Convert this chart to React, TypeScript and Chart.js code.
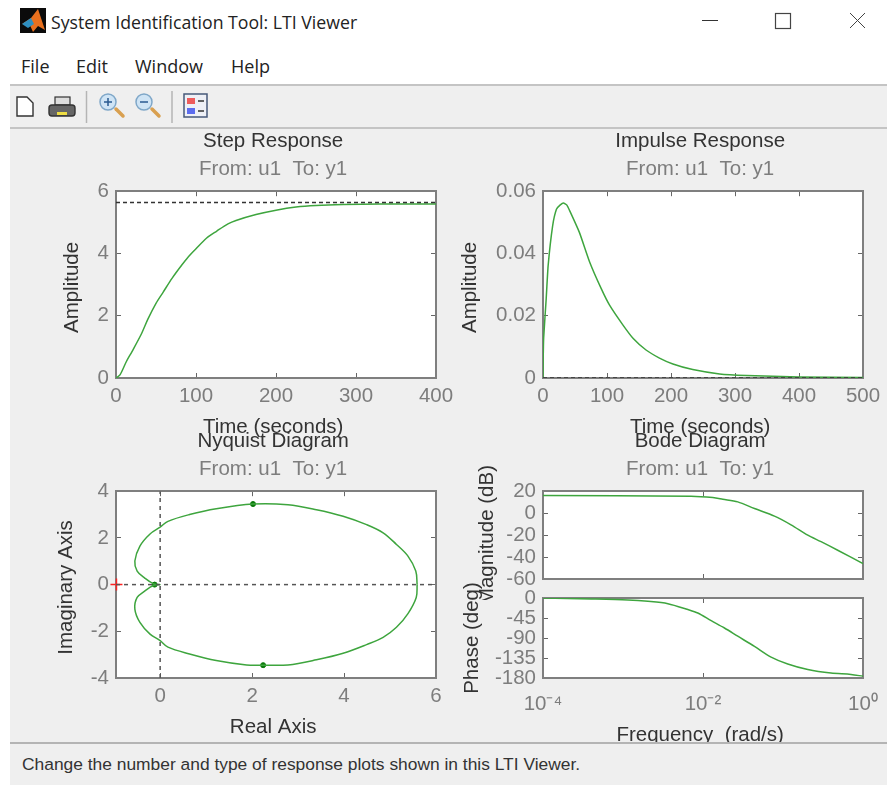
import React, { useEffect, useRef } from "react";
import { Chart, registerables } from "chart.js";

Chart.register(...registerables);

// ---------- data ----------
const stepTime = [0, 5, 13, 20, 32, 40, 50, 59, 70, 82, 90, 100, 113, 126, 140, 150, 175, 200, 225, 250, 284, 330, 400];
const stepAmp = [0, 0.1, 0.53, 0.85, 1.43, 1.9, 2.4, 2.76, 3.2, 3.62, 3.88, 4.15, 4.49, 4.72, 4.95, 5.06, 5.25, 5.39, 5.49, 5.54, 5.57, 5.585, 5.59];
const stepFinalTime = [0, 400];
const stepFinalAmp = [5.64, 5.64];

const impulseTime = [0, 0.3, 1, 5, 8, 15, 21, 27, 32, 37, 42, 57, 73, 91, 104, 125, 141, 161, 182, 203, 234, 276, 318, 400, 500];
const impulseAmp = [0, 0.006, 0.0127, 0.0255, 0.036, 0.0488, 0.0542, 0.0556, 0.0562, 0.0556, 0.0536, 0.0467, 0.0372, 0.0287, 0.0234, 0.017, 0.0127, 0.009, 0.0064, 0.0045, 0.0027, 0.0013, 0.0008, 0.0003, 0.0002];
const impulseFinalTime = [0, 500];
const impulseFinalAmp = [0, 0];

const nyqRe = [5.59, 5.56, 5.39, 5.14, 4.85, 4.49, 3.98, 3.4, 2.78, 2.02, 1.22, 0.64, 0.17, 0, -0.22, -0.44, -0.55, -0.5, -0.33, -0.15, 0, -0.15, -0.33, -0.5, -0.55, -0.44, -0.22, 0, 0.17, 0.64, 1.22, 1.88, 2.24, 2.78, 3.4, 3.98, 4.49, 4.85, 5.14, 5.39, 5.57, 5.59];
const nyqIm = [0, 0.58, 1.22, 1.72, 2.22, 2.57, 2.93, 3.21, 3.42, 3.45, 3.25, 3.0, 2.71, 2.46, 2.17, 1.65, 1.01, 0.58, 0.27, 0.04, 0, -0.04, -0.27, -0.55, -1.05, -1.62, -2.12, -2.4, -2.68, -2.97, -3.25, -3.44, -3.45, -3.44, -3.22, -2.94, -2.57, -2.26, -1.83, -1.24, -0.55, 0];
const nyqArrowRe = [2.02, 2.24, -0.12];
const nyqArrowIm = [3.45, -3.45, 0];
const nyqCriticalRe = [-0.95];
const nyqCriticalIm = [0];
const nyqAxisRe = [-0.96, 6];
const nyqAxisIm = [-4, 4];

const magFreq = [0.0001, 0.0071, 0.01327, 0.0177, 0.0272, 0.044, 0.0782, 0.126, 0.204, 0.299, 0.483, 1];
const magDb = [16.1, 15.4, 14.2, 12.7, 10.3, 4.2, -2.7, -10.6, -20, -26, -33.8, -46];
const phaseFreq = [0.0001, 0.000402, 0.00115, 0.00205, 0.00364, 0.00647, 0.00861, 0.01265, 0.01854, 0.0272, 0.044, 0.071, 0.1146, 0.204, 0.398, 0.708, 1];
const phaseDeg = [0, -2.2, -4.5, -7.5, -12.8, -26, -33.8, -51, -67.5, -86, -109, -133, -148.5, -161, -169, -172, -176];

const stepXTicks = [0, 100, 200, 300, 400];
const stepYTicks = [0, 2, 4, 6];
const impulseXTicks = [0, 100, 200, 300, 400, 500];
const impulseYTicks = [0, 0.02, 0.04, 0.06];
const nyqXTicks = [0, 2, 4, 6];
const nyqYTicks = [-4, -2, 0, 2, 4];
const freqTicks = [0.0001, 0.01, 1];
const freqLabels = ["10\u207B\u2074", "10\u207B\u00B2", "10\u2070"];
const magTicks = [-60, -40, -20, 0, 20];
const phaseTicks = [-180, -135, -90, -45, 0];
const menus = ["File", "Edit", "Window", "Help"];

// ---------- styling ----------
const GREEN = "#3ea53e";
const FONT = "'Liberation Sans', Arial, sans-serif";
const TICK_GREY = "#7d7d7d";
const DARK = "#333333";
const EDGE = "#7f7f7f";

const zip = (xs: number[], ys: number[]) => xs.map((x, i) => ({ x, y: ys[i] }));

const whitePlot = {
  id: "whitePlot",
  beforeDraw(chart: any) {
    const a = chart.chartArea;
    chart.ctx.save();
    chart.ctx.fillStyle = "#ffffff";
    chart.ctx.fillRect(a.left, a.top, a.right - a.left, a.bottom - a.top);
    chart.ctx.restore();
  },
};

type Cfg = {
  box: [number, number, number, number]; // canvas left, top, right, bottom
  plot: [number, number, number, number]; // plot left, top, right, bottom
  title?: string;
  subtitle?: string;
  xTitle?: string;
  yTitle: string;
  xType?: string;
  xRange: [number, number];
  yRange: [number, number];
  xTicks: number[];
  yTicks: number[];
  xLabel?: (v: number) => string;
  showXLabels?: boolean;
  xPad?: number;
  datasets: any[];
};

const line = (data: any[], color = GREEN, width = 1.5, dash: number[] = [], tension = 0.3) => ({
  data,
  borderColor: color,
  backgroundColor: color,
  borderWidth: width,
  borderDash: dash,
  pointRadius: 0,
  tension,
  fill: false,
});

const zeroPadding = (s: any) => {
  s.paddingLeft = 0;
  s.paddingRight = 0;
  s.paddingTop = 0;
  s.paddingBottom = 0;
};

function axis(position: string, values: number[], range: [number, number], extra: any) {
  const isX = position === "bottom" || position === "top";
  return {
    axis: isX ? "x" : "y",
    position,
    type: "linear",
    min: range[0],
    max: range[1],
    afterBuildTicks: (s: any) => {
      s.ticks = values.map((value) => ({ value }));
    },
    grid: { drawOnChartArea: false, drawTicks: true, tickLength: -5, color: "#666666", lineWidth: 1 },
    border: { display: true, color: EDGE, width: 2 },
    ticks: { display: false },
    afterFit: (s: any) => {
      zeroPadding(s);
      if (isX) s.height = 0;
      else s.width = 0;
    },
    ...extra,
  };
}

function buildOptions(c: Cfg) {
  const [bl, bt, br, bb] = c.box;
  const [pl, pt, pr, pb] = c.plot;
  const tickFont = { family: FONT, size: 20.5 };
  const titleFont = { family: FONT, size: 20.5, weight: "normal" as const };
  const hasTitle = !!c.title;
  return {
    responsive: false,
    animation: false,
    layout: {
      autoPadding: false,
      padding: { left: 0, right: br - pr, top: hasTitle ? 0 : pt - bt, bottom: c.xTitle ? 0 : bb - pb },
    },
    plugins: {
      legend: { display: false },
      tooltip: { enabled: false },
      title: {
        display: hasTitle,
        text: c.title,
        fullSize: false,
        color: DARK,
        font: titleFont,
        padding: { top: 0, bottom: 3 },
      },
      subtitle: {
        display: hasTitle,
        text: c.subtitle,
        fullSize: false,
        color: TICK_GREY,
        font: titleFont,
        padding: { top: 0, bottom: 10 },
      },
    },
    scales: {
      x: axis("bottom", c.xTicks, c.xRange, {
        type: c.xType || "linear",
        afterFit: (s: any) => {
          zeroPadding(s);
          s.height = c.xTitle ? bb - pb : 0;
        },
        title: c.xTitle
          ? { display: true, text: c.xTitle, color: DARK, font: titleFont, padding: 0 }
          : { display: false },
        ticks: {
          display: c.showXLabels !== false,
          color: TICK_GREY,
          font: tickFont,
          padding: c.xPad ?? 11,
          autoSkip: false,
          minRotation: 0,
          maxRotation: 0,
          callback: (v: number) => (c.xLabel ? c.xLabel(Number(v)) : String(v)),
        },
      }),
      y: axis("left", c.yTicks, c.yRange, {
        afterFit: (s: any) => {
          zeroPadding(s);
          s.width = pl - bl;
        },
        title: { display: true, text: c.yTitle, color: DARK, font: titleFont, padding: 0 },
        ticks: {
          display: true,
          color: TICK_GREY,
          font: tickFont,
          padding: 12,
          autoSkip: false,
          callback: (v: number) => String(v),
        },
      }),
      x2: axis("top", c.xTicks, c.xRange, { type: c.xType || "linear" }),
      y2: axis("right", c.yTicks, c.yRange, {}),
    },
  };
}

const charts: Cfg[] = [
  {
    box: [60, 129, 470, 440],
    plot: [116, 190, 436, 378],
    title: "Step Response ",
    subtitle: "From: u1  To: y1 ",
    xTitle: "Time (seconds) ",
    yTitle: "Amplitude ",
    xRange: [0, 400],
    yRange: [0, 6],
    xTicks: stepXTicks,
    yTicks: stepYTicks,
    datasets: [line(zip(stepFinalTime, stepFinalAmp), "#333333", 1.5, [4, 3], 0), line(zip(stepTime, stepAmp))],
  },
  {
    box: [458, 129, 887, 440],
    plot: [543, 190, 863, 378],
    title: "Impulse Response ",
    subtitle: "From: u1  To: y1 ",
    xTitle: "Time (seconds) ",
    yTitle: "Amplitude ",
    xRange: [0, 500],
    yRange: [0, 0.06],
    xTicks: impulseXTicks,
    yTicks: impulseYTicks,
    datasets: [line(zip(impulseFinalTime, impulseFinalAmp), "#333333", 1.5, [4, 3], 0), line(zip(impulseTime, impulseAmp), GREEN, 1.5, [], 0.15)],
  },
  {
    box: [54, 429, 470, 740],
    plot: [116, 490, 436, 678],
    title: "Nyquist Diagram ",
    subtitle: "From: u1  To: y1 ",
    xTitle: "Real Axis ",
    yTitle: "Imaginary Axis ",
    xRange: [-0.96, 6],
    yRange: [-4, 4],
    xTicks: nyqXTicks,
    yTicks: nyqYTicks,
    datasets: [
      line(zip([0, 0], nyqAxisIm), "#555555", 1.5, [4, 4], 0),
      line(zip(nyqAxisRe, [0, 0]), "#555555", 1.5, [4, 4], 0),
      line(zip(nyqRe, nyqIm), GREEN, 1.5, [], 0.35),
      {
        data: zip(nyqArrowRe, nyqArrowIm),
        showLine: false,
        pointRadius: 2.5,
        pointBackgroundColor: "#0a7a0a",
        pointBorderColor: "#0a7a0a",
      },
      {
        data: zip(nyqCriticalRe, nyqCriticalIm),
        showLine: false,
        clip: false,
        pointStyle: "cross",
        pointRadius: 6,
        pointBorderColor: "#ff2020",
        pointBorderWidth: 1.5,
      },
    ],
  },
  {
    box: [475, 429, 887, 600],
    plot: [543, 490, 863, 579],
    title: "Bode Diagram ",
    subtitle: "From: u1  To: y1 ",
    yTitle: "Magnitude (dB)",
    xType: "logarithmic",
    xRange: [0.0001, 1],
    yRange: [-60, 20],
    xTicks: freqTicks,
    yTicks: magTicks,
    showXLabels: false,
    datasets: [line(zip(magFreq, magDb))],
  },
  {
    box: [460, 578, 887, 748],
    plot: [543, 598, 863, 678],
    xTitle: "Frequency  (rad/s) ",
    yTitle: "Phase (deg)",
    xType: "logarithmic",
    xRange: [0.0001, 1],
    yRange: [-180, 0],
    xTicks: freqTicks,
    yTicks: phaseTicks,
    xLabel: (v) => freqLabels[freqTicks.indexOf(v)] ?? "",
    xPad: 19,
    datasets: [line(zip(phaseFreq, phaseDeg))],
  },
];

function Plot({ cfg }: { cfg: Cfg }) {
  const ref = useRef<HTMLCanvasElement>(null);
  useEffect(() => {
    const chart = new Chart(ref.current as HTMLCanvasElement, {
      type: "line",
      data: { datasets: cfg.datasets },
      options: buildOptions(cfg) as any,
      plugins: [whitePlot],
    });
    return () => chart.destroy();
  }, [cfg]);
  const [l, t, r, b] = cfg.box;
  return (
    <canvas
      ref={ref}
      width={r - l}
      height={b - t}
      style={{ position: "absolute", left: l, top: t, width: r - l, height: b - t }}
    />
  );
}

function Icons() {
  return (
    <svg width={887} height={130} style={{ position: "absolute", left: 0, top: 0 }}>
      {/* logo */}
      <rect x={20} y={8} width={26} height={25} fill="#0b0b0b" />
      <path d="M22 24 L31 18 L38 9 L45 30 L38 26 L33 32 L29 23 Z" fill="#e8701e" />
      <path d="M22 24 L31 18 L34 24 L28 28 Z" fill="#2f8fc0" />
      {/* window buttons */}
      <line x1={702} y1={20.5} x2={718} y2={20.5} stroke="#333" strokeWidth={1} />
      <rect x={775.5} y={13.5} width={15} height={15} fill="none" stroke="#444" strokeWidth={1.2} />
      <path d="M850 13 L865 28 M865 13 L850 28" stroke="#444" strokeWidth={1} />
      {/* toolbar */}
      <path d="M17 97 H27 L33 103 V116 H17 Z" fill="#fff" stroke="#333" strokeWidth={1.4} />
      <rect x={55} y={97} width={15} height={8} fill="#ddd" stroke="#333" strokeWidth={1.2} />
      <rect x={49} y={105} width={26} height={11} rx={3} fill="#666" stroke="#333" strokeWidth={1.4} />
      <rect x={57} y={112} width={10} height={3} fill="#eedd44" />
      <line x1={86.5} y1={91} x2={86.5} y2={123} stroke="#b5b5b5" strokeWidth={1.5} />
      <path d="M116 109 L123 116" stroke="#d9a050" strokeWidth={3.5} strokeLinecap="round" />
      <circle cx={108} cy={102} r={8} fill="#cfe4f5" stroke="#7fa7c8" strokeWidth={1.5} />
      <path d="M104 102 H112 M108 98 V106" stroke="#2a5a90" strokeWidth={1.5} />
      <path d="M152 109 L159 116" stroke="#d9a050" strokeWidth={3.5} strokeLinecap="round" />
      <circle cx={144} cy={102} r={8} fill="#cfe4f5" stroke="#7fa7c8" strokeWidth={1.5} />
      <path d="M140 102 H148" stroke="#2a5a90" strokeWidth={1.5} />
      <line x1={172} y1={91} x2={172} y2={123} stroke="#b5b5b5" strokeWidth={1.5} />
      <rect x={184} y={94} width={23} height={23} fill="#eef0f6" stroke="#47597a" strokeWidth={1.5} />
      <rect x={187} y={98} width={8} height={6} fill="#ee5c5c" />
      <rect x={187} y={108} width={8} height={6} fill="#5c6cee" />
      <path d="M198 101 H204 M198 111 H204" stroke="#333" strokeWidth={1.5} />
    </svg>
  );
}

export default function App() {
  const menuLeft = [21, 76, 135, 231];
  return (
    <div
      style={{
        position: "fixed",
        left: 0,
        top: 0,
        width: 887,
        height: 785,
        overflow: "hidden",
        background: "#ffffff",
        fontFamily: FONT,
        filter: "blur(0.4px)",
      }}
    >
      <div style={{ position: "absolute", left: 10, top: 86, right: 0, bottom: 0, background: "#efefef" }} />
      <div style={{ position: "absolute", left: 10, top: 84, right: 0, height: 2, background: "#c4c4c4" }} />
      <div style={{ position: "absolute", left: 10, top: 127, right: 0, height: 2, background: "#c4c4c4" }} />
      <Icons />
      <div
        style={{
          position: "absolute",
          left: 51,
          top: 10,
          fontFamily: "'Open Sans', sans-serif",
          fontSize: 17.7,
          lineHeight: "24px",
          color: "#222",
          whiteSpace: "nowrap",
        }}
      >
        System Identification Tool: LTI Viewer
      </div>
      {menus.map((m, i) => (
        <div
          key={m}
          style={{
            position: "absolute",
            left: menuLeft[i],
            top: 54,
            fontFamily: "'Open Sans', sans-serif",
            fontSize: 18,
            lineHeight: "24px",
            color: "#222",
          }}
        >
          {m}
        </div>
      ))}
      {charts.map((c, i) => (
        <Plot key={i} cfg={c} />
      ))}
      <div style={{ position: "absolute", left: 10, top: 744, right: 0, bottom: 0, background: "#efefef" }} />
      <div style={{ position: "absolute", left: 10, top: 742, right: 0, height: 2, background: "#b4b4b4" }} />
      <div
        style={{
          position: "absolute",
          left: 22,
          top: 754,
          fontSize: 17.4,
          lineHeight: "20px",
          color: "#333",
          whiteSpace: "nowrap",
        }}
      >
        Change the number and type of response plots shown in this LTI Viewer.
      </div>
    </div>
  );
}
